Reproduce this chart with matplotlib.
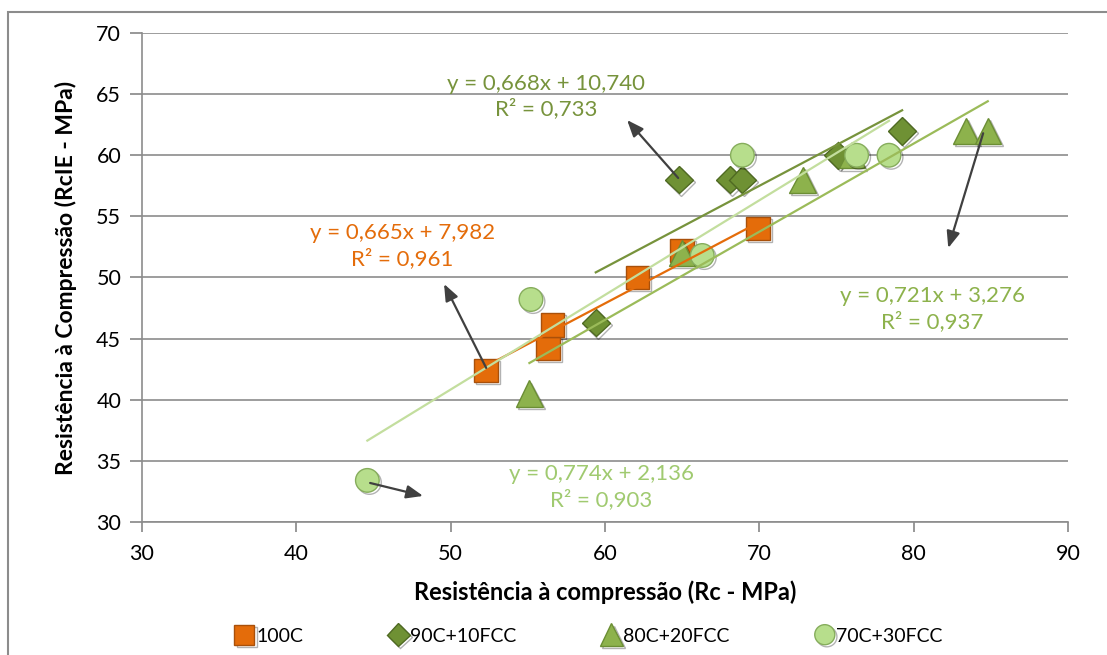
import matplotlib
matplotlib.use('Agg')
import matplotlib.pyplot as plt
import matplotlib.patheffects as pe
from matplotlib.patches import Rectangle
import numpy as np

plt.rcParams['font.family'] = ['Lato', 'DejaVu Sans']

# Rc (x) and RcIE (y) for each mix, MPa
rc_100c = [52.3, 56.3, 56.6, 62.1, 65.0, 69.9]
rcie_100c = [42.4, 44.2, 46.1, 50.0, 52.2, 54.0]

rc_90c = [59.4, 64.8, 68.1, 68.9, 75.1, 79.25]
rcie_90c = [46.3, 58.0, 58.0, 58.0, 60.0, 62.0]

rc_80c = [55.1, 65.0, 72.8, 76.0, 83.4, 84.8]
rcie_80c = [40.5, 52.0, 58.0, 60.0, 62.0, 62.0]

rc_70c = [44.6, 55.2, 66.3, 68.9, 76.3, 78.4]
rcie_70c = [33.4, 48.2, 51.8, 60.0, 60.0, 60.0]

# linear trend coefficients (slope, intercept) and R²
fit_100c = (0.665, 7.982, 0.961)
fit_90c = (0.668, 10.740, 0.733)
fit_80c = (0.721, 3.276, 0.937)
fit_70c = (0.774, 2.136, 0.903)

x_ticks = [30, 40, 50, 60, 70, 80, 90]
y_ticks = [30, 35, 40, 45, 50, 55, 60, 65, 70]

series = [
    ('100C', rc_100c, rcie_100c, fit_100c, 's', 17, '#E46C0A', '#A9500A', '#E46C0A'),
    ('90C+10FCC', rc_90c, rcie_90c, fit_90c, 'D', 14, '#6F9134', '#4F6A22', '#77933C'),
    ('80C+20FCC', rc_80c, rcie_80c, fit_80c, '^', 19, '#8DB24C', '#6B8E34', '#9BBB59'),
    ('70C+30FCC', rc_70c, rcie_70c, fit_70c, 'o', 17, '#B7DE8C', '#86AD5C', '#C3DE9E'),
]


def eq_text(fit):
    a, b, r2 = fit
    s = 'y = {:.3f}x + {:.3f}'.format(a, b).replace('.', ',')
    return s + '\nR² = ' + '{:.3f}'.format(r2).replace('.', ',')


fig = plt.figure(figsize=(11.07, 6.55), dpi=100)
ax = fig.add_axes([0.1283, 0.2031, 0.8365, 0.7465])

shadow = [pe.SimpleLineShadow(offset=(1.5, -1.5), shadow_color='k', alpha=0.3), pe.Normal()]

for name, xs, ys, fit, mk, ms, fc, ec, lc in series:
    ax.plot(xs, ys, linestyle='none', marker=mk, markersize=ms, markerfacecolor=fc,
            markeredgecolor=ec, markeredgewidth=1.0, label=name, zorder=3,
            path_effects=shadow)

# trendlines over the span of each series
for name, xs, ys, fit, mk, ms, fc, ec, lc in series:
    xx = np.array([min(xs), max(xs)])
    ax.plot(xx, fit[0] * xx + fit[1], color=lc, linewidth=1.6, zorder=4)

# equation labels with leader arrows
labels = [
    (fit_90c, (56.2, 64.8), (64.74, 58.14), (61.43, 62.88), '#77933C'),
    (fit_100c, (46.85, 52.6), (52.3, 42.6), (49.57, 49.47), '#E46C0A'),
    (fit_80c, (81.2, 47.45), (84.5, 61.8), (82.24, 52.41), '#8DB24C'),
    (fit_70c, (59.75, 32.85), (44.78, 33.19), (48.21, 32.13), '#A0CA70'),
]
for fit, txy, tail, tip, col in labels:
    ax.text(txy[0], txy[1], eq_text(fit), color=col, fontsize=16, ha='center',
            va='center', linespacing=1.3, zorder=5)
    ax.annotate('', xy=tip, xytext=tail,
                arrowprops=dict(arrowstyle='-|>,head_length=1.0,head_width=0.4',
                                color='#404040', lw=1.6, shrinkA=0, shrinkB=0),
                zorder=5)

ax.set_xlim(30, 90)
ax.set_ylim(30, 70)
ax.set_xticks(x_ticks)
ax.set_yticks(y_ticks)
ax.tick_params(axis='both', labelsize=15.5, colors='#868686', labelcolor='black')
ax.tick_params(axis='x', direction='out', length=7, width=1.2, pad=9)
ax.tick_params(axis='y', direction='out', length=9, width=1.2, pad=6)
ax.grid(axis='y', color='#8C8C8C', linewidth=1.2)
ax.set_axisbelow(True)
for side in ['top', 'right']:
    ax.spines[side].set_visible(False)
for side in ['left', 'bottom']:
    ax.spines[side].set_color('#8C8C8C')
    ax.spines[side].set_linewidth(1.2)

ax.set_xlabel('Resistência à compressão (Rc - MPa)', fontsize=17, fontweight='bold', labelpad=12)
ax.set_ylabel('Resistência à Compressão (RcIE - MPa)', fontsize=16.5, fontweight='bold', labelpad=14)

fig.legend(loc='center', bbox_to_anchor=(0.531, 0.029), ncol=4, frameon=False,
           fontsize=14, handletextpad=0.0, columnspacing=4.3, markerscale=0.85,
           handlelength=1.2)

# outer chart border
fig.patches.append(Rectangle((0.0072, -0.02), 1.2, 1.0017, transform=fig.transFigure,
                             fill=False, edgecolor='#8C8C8C', linewidth=1.5))

fig.savefig('out.png', dpi=100)
